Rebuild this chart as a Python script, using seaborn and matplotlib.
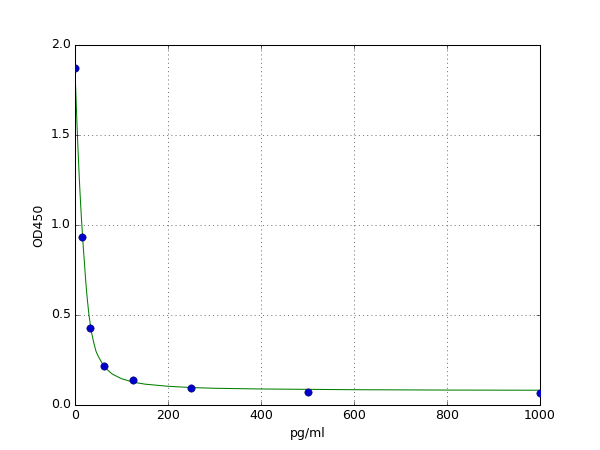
import matplotlib
matplotlib.use("Agg")
import matplotlib.pyplot as plt
import seaborn as sns

# standard points (concentration pg/ml vs OD450)
std_conc = [0, 15.6, 31.25, 62.5, 125, 250, 500, 1000]
std_od = [1.872, 0.936, 0.429, 0.217, 0.139, 0.097, 0.075, 0.067]

# fitted curve
curve_conc = [0, 2, 4, 6, 8, 10, 12, 14, 16, 18, 20, 23, 26, 30, 35, 40, 45, 50,
              60, 70, 80, 100, 125, 150, 200, 250, 300, 400, 500, 600, 800, 1000]
curve_od = [1.86, 1.72, 1.58, 1.45, 1.33, 1.22, 1.12, 1.03, 0.95, 0.87, 0.80, 0.69,
            0.60, 0.50, 0.41, 0.35, 0.30, 0.27, 0.225, 0.195, 0.172, 0.146, 0.127, 0.116,
            0.104, 0.097, 0.093, 0.089, 0.087, 0.085, 0.083, 0.082]

plt.style.use("classic")
fig, ax = plt.subplots(figsize=(8, 6), dpi=75)

sns.lineplot(x=curve_conc, y=curve_od, color="green", linewidth=1, ax=ax)
sns.scatterplot(x=std_conc, y=std_od, color="#0000cc", edgecolor="#000066",
                linewidth=0.5, s=50, ax=ax, zorder=3)

ax.set_xlim(0, 1000)
ax.set_ylim(0, 2.0)
ax.set_xlabel("pg/ml")
ax.set_ylabel("OD450")
ax.grid(True)

fig.savefig("out.png", dpi=75)
